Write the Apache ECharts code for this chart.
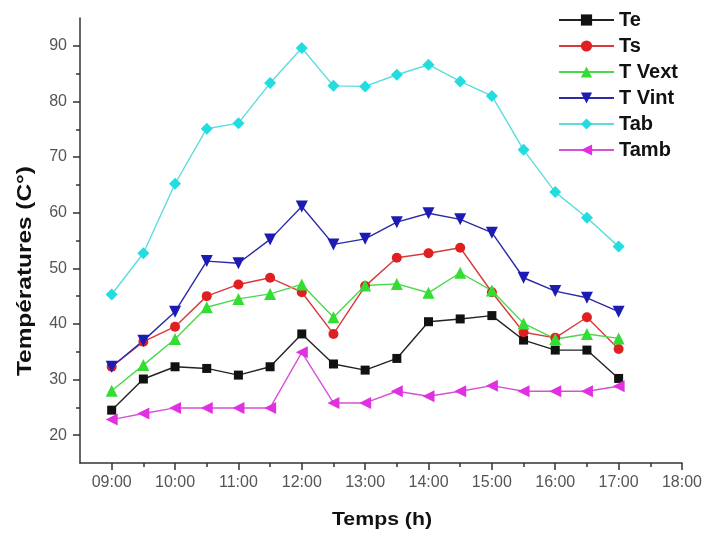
<!DOCTYPE html>
<html>
<head>
<meta charset="utf-8">
<script src="https://cdn.jsdelivr.net/npm/echarts@6/dist/echarts.min.js"></script>
<style>
  html, body { margin: 0; padding: 0; background: #fff; }
  #chart { width: 705px; height: 534px; }
</style>
</head>
<body>
<div id="chart"></div>
<script>
// Measurement times (hh:mm)
const times = ['09:00', '09:30', '10:00', '10:30', '11:00', '11:30', '12:00', '12:30',
  '13:00', '13:30', '14:00', '14:30', '15:00', '15:30', '16:00', '16:30', '17:00'];

// Temperatures in °C
const Te    = [24.5, 30.1, 32.3, 32.0, 30.8, 32.3, 38.2, 32.8, 31.7, 33.8, 40.4, 40.9, 41.5, 37.1, 35.3, 35.3, 30.2];
const Ts    = [32.3, 36.8, 39.5, 45.0, 47.1, 48.3, 45.7, 38.2, 46.8, 51.9, 52.7, 53.7, 45.7, 38.5, 37.5, 41.2, 35.5];
const TVext = [28.0, 32.6, 37.3, 43.0, 44.5, 45.4, 47.1, 41.2, 46.9, 47.2, 45.6, 49.2, 46.0, 40.1, 37.3, 38.2, 37.4];
const TVint = [32.3, 37.0, 42.2, 51.3, 50.9, 55.2, 61.1, 54.3, 55.3, 58.3, 59.9, 58.8, 56.4, 48.3, 45.9, 44.7, 42.2];
const Tab   = [45.3, 52.7, 65.2, 75.1, 76.1, 83.3, 89.6, 82.8, 82.7, 84.8, 86.6, 83.6, 81.0, 71.3, 63.7, 59.1, 53.9];
const Tamb  = [22.8, 23.9, 24.9, 24.9, 24.9, 24.9, 34.9, 25.8, 25.8, 27.9, 27.0, 27.9, 28.9, 27.9, 27.9, 27.9, 28.8];

// Axis ticks
const xMajor = [9, 10, 11, 12, 13, 14, 15, 16, 17, 18];
const xMinor = [9.5, 10.5, 11.5, 12.5, 13.5, 14.5, 15.5, 16.5, 17.5];
const yMajor = [20, 30, 40, 50, 60, 70, 80, 90];
const yMinor = [25, 35, 45, 55, 65, 75, 85];

const toHours = t => { const [h, m] = t.split(':').map(Number); return h + m / 60; };
const fmtHour = v => { const h = Math.floor(v), m = Math.round((v - h) * 60);
  return String(h).padStart(2, '0') + ':' + String(m).padStart(2, '0'); };
const pairs = arr => times.map((t, i) => [toHours(t), arr[i]]);

const font = 'Liberation Sans, Arial, sans-serif';
const axisColor = '#333';

function makeSeries(name, data, color, lineColor, symbol, size, rotate) {
  return {
    name, type: 'line', data: pairs(data),
    symbol, symbolSize: size, symbolRotate: rotate || 0,
    itemStyle: { color },
    lineStyle: { color: lineColor, width: 1.4 },
    emphasis: { disabled: true },
    animation: false
  };
}

const chart = echarts.init(document.getElementById('chart'));
chart.setOption({
  backgroundColor: '#fff',
  animation: false,
  grid: { left: 80, right: 23, top: 18, bottom: 71, containLabel: false },
  legend: {
    left: 558, top: 10, orient: 'vertical', padding: 0,
    itemWidth: 55, itemHeight: 14, itemGap: 6,
    textStyle: { fontFamily: font, fontWeight: 'bold', fontSize: 20, color: '#111' },
    data: ['Te', 'Ts', 'T Vext', 'T Vint', 'Tab', 'Tamb']
  },
  xAxis: [{
    type: 'value', min: 8.5, max: 18,
    splitLine: { show: false },
    axisLine: { show: true, onZero: false, lineStyle: { color: axisColor, width: 1.5 } },
    axisTick: { show: true, inside: false, length: 7, customValues: xMajor, lineStyle: { color: axisColor, width: 1.5 } },
    axisLabel: { customValues: xMajor, formatter: fmtHour, margin: 12,
      fontFamily: font, fontSize: 16, color: '#555' }
  }, {
    type: 'value', min: 8.5, max: 18, position: 'bottom',
    splitLine: { show: false },
    axisLine: { show: false },
    axisTick: { show: true, inside: false, length: 4, customValues: xMinor, lineStyle: { color: axisColor, width: 1.5 } },
    axisLabel: { show: false }
  }],
  yAxis: [{
    type: 'value', min: 15, max: 95,
    splitLine: { show: false },
    axisLine: { show: true, onZero: false, lineStyle: { color: axisColor, width: 1.5 } },
    axisTick: { show: true, inside: false, length: 7, customValues: yMajor, lineStyle: { color: axisColor, width: 1.5 } },
    axisLabel: { customValues: yMajor, margin: 13,
      fontFamily: font, fontSize: 16, color: '#555' }
  }, {
    type: 'value', min: 15, max: 95, position: 'left',
    splitLine: { show: false },
    axisLine: { show: false },
    axisTick: { show: true, inside: false, length: 4, customValues: yMinor, lineStyle: { color: axisColor, width: 1.5 } },
    axisLabel: { show: false }
  }],
  // Axis titles, drawn slightly widened
  graphic: [{
    type: 'text', x: 25, y: 271, rotation: Math.PI / 2, scaleX: 1.22,
    style: { text: 'Températures (C°)', fontFamily: font, fontWeight: 'bold', fontSize: 20,
      fill: '#111', align: 'center', verticalAlign: 'middle' }
  }, {
    type: 'text', x: 382, y: 520, scaleX: 1.12,
    style: { text: 'Temps (h)', fontFamily: font, fontWeight: 'bold', fontSize: 19,
      fill: '#111', align: 'center', verticalAlign: 'middle' }
  }],
  series: [
    makeSeries('Te', Te, '#111111', '#222222', 'rect', 9),
    makeSeries('Ts', Ts, '#e02020', '#d83a3a', 'circle', 10),
    makeSeries('T Vext', TVext, '#33dd33', '#4ad84a', 'triangle', 12),
    makeSeries('T Vint', TVint, '#1c1cb4', '#2a2aa8', 'triangle', 12, 180),
    makeSeries('Tab', Tab, '#22dde0', '#5cdcdc', 'diamond', 12),
    makeSeries('Tamb', Tamb, '#e030e0', '#d850d8', 'triangle', 12, 90)
  ]
});
</script>
</body>
</html>
